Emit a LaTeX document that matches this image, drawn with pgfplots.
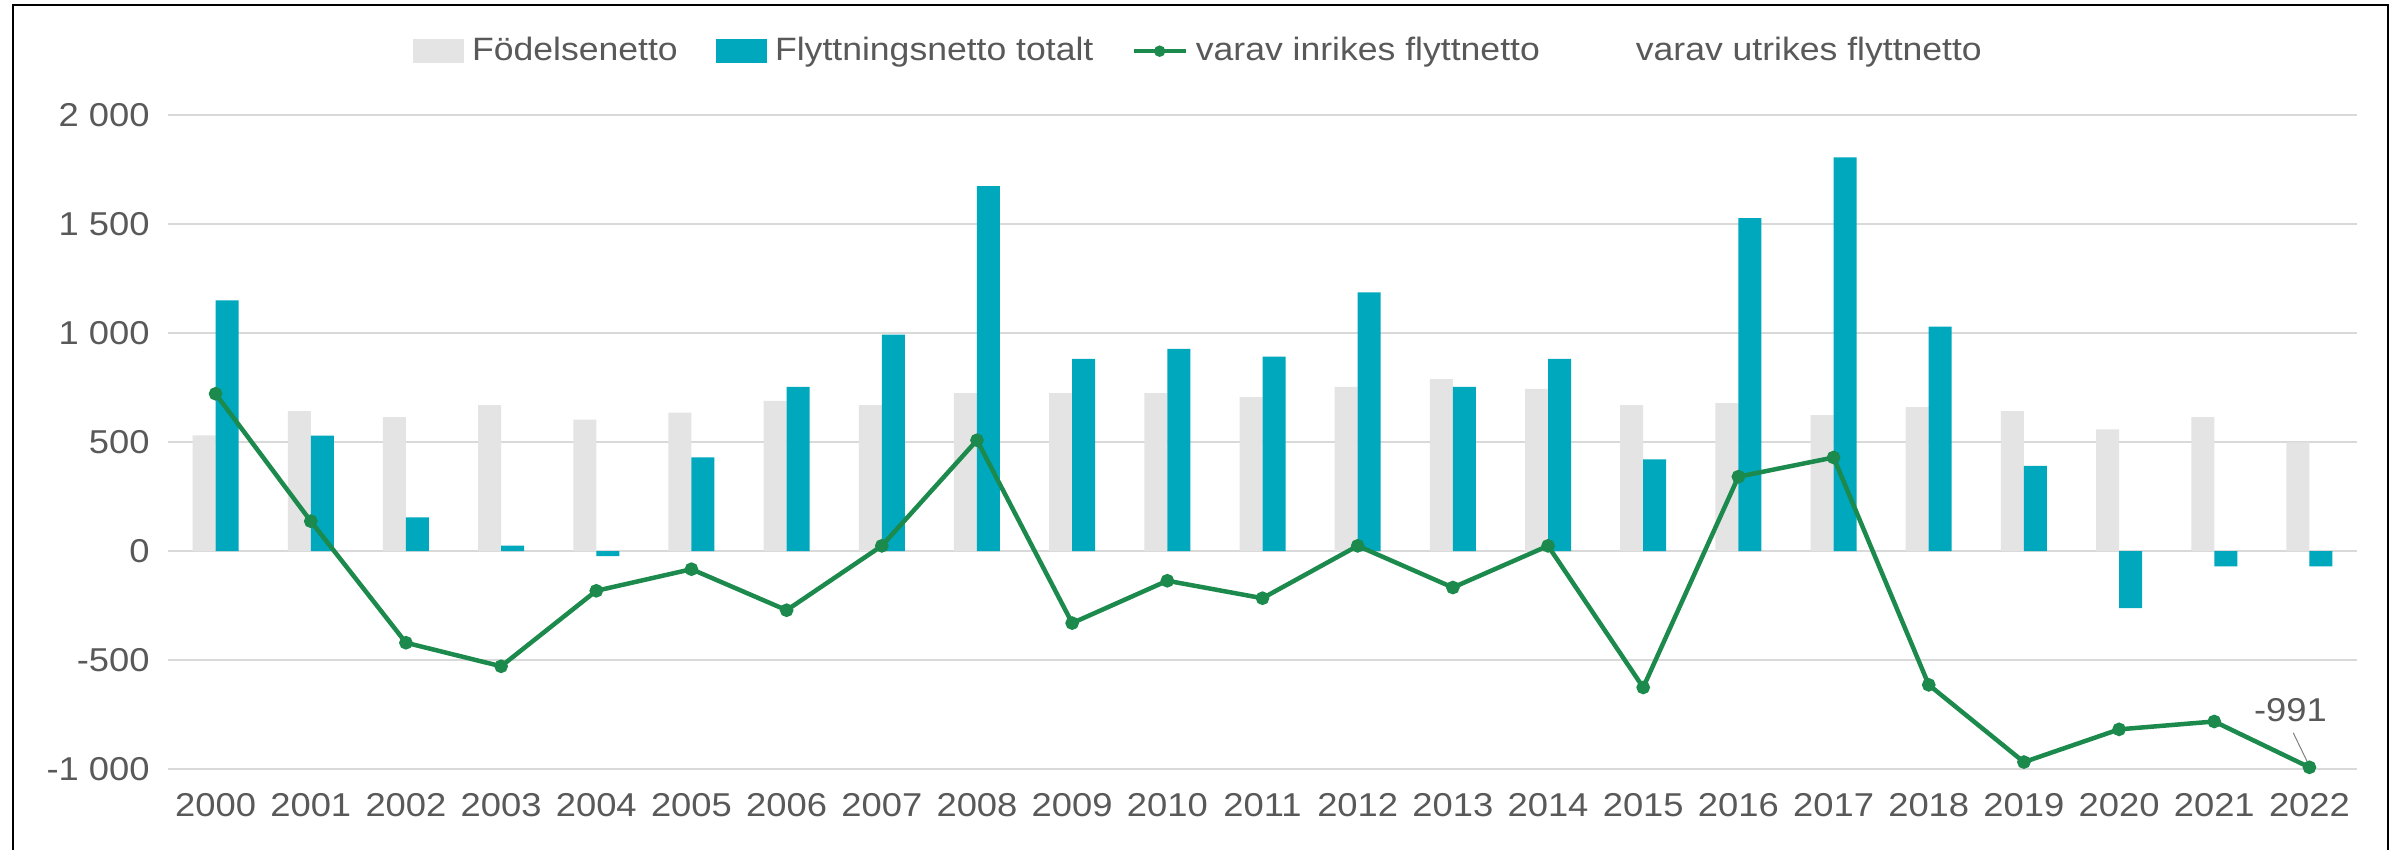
\documentclass[border=0pt]{standalone}
\usepackage{pgfplots}
\pgfplotsset{compat=1.18}
\usepackage{pgfplotstable}
\usepackage{fontspec}
\setmainfont[FakeStretch=1.1]{Liberation Sans}
\definecolor{fodgray}{RGB}{228,228,228}
\definecolor{teal1}{RGB}{0,168,189}
\definecolor{green1}{RGB}{28,138,76}
\definecolor{txtgray}{RGB}{89,89,89}
\definecolor{gridgray}{RGB}{217,217,217}
\pgfplotstableread{
idx year fod flytt inrikes
0 2000 530 1149 721
1 2001 641 529 137
2 2002 614 154 -420
3 2003 669 25 -528
4 2004 603 -23 -182
5 2005 634 429 -83
6 2006 688 752 -271
7 2007 669 992 24
8 2008 724 1673 508
9 2009 724 881 -330
10 2010 724 927 -136
11 2011 706 891 -216
12 2012 752 1186 24
13 2013 788 752 -167
14 2014 743 881 24
15 2015 669 420 -625
16 2016 678 1526 341
17 2017 623 1804 429
18 2018 660 1029 -613
19 2019 641 391 -967
20 2020 558 -261 -817
21 2021 614 -70 -781
22 2022 498 -70 -991
}\datatable
\begin{document}
\begin{tikzpicture}
\useasboundingbox (0,0) rectangle (240mm,85mm);
\fill[white] (0,0) rectangle (240mm,85mm);
\draw[line width=0.25mm] (1.3mm,-1mm) -- (1.3mm,84.5mm) -- (238.8mm,84.5mm) -- (238.8mm,-1mm);
\begin{axis}[
  at={(16.8mm,8.07mm)}, anchor=south west,
  scale only axis, width=218.9mm, height=65.46mm,
  xmin=-0.5, xmax=22.5, ymin=-1000, ymax=2000,
  axis line style={draw=none},
  major tick length=0pt,
  xtick={0,...,22},
  xticklabels={2000,2001,2002,2003,2004,2005,2006,2007,2008,2009,2010,2011,2012,2013,2014,2015,2016,2017,2018,2019,2020,2021,2022},
  ytick={-1000,-500,0,500,1000,1500,2000},
  yticklabels={-1 000,-500,0,500,1 000,1 500,2 000},
  ymajorgrids,
  major grid style={draw=gridgray, line width=0.2mm},
  ticklabel style={font=\fontsize{9.4}{11}\selectfont, text=txtgray},
  yticklabel style={xshift=-0.6mm},
  xticklabel style={yshift=-1.2mm},
  legend style={draw=none, fill=none, at={(0.472,1.097)}, anchor=center,
    font=\fontsize{9.2}{11}\selectfont, text=txtgray,
    /tikz/every even column/.append style={column sep=3mm},
    nodes={inner xsep=0.8mm}},
  legend columns=4,
  legend cell align=left,
  clip=false,
]
\addlegendimage{legend image code/.code={\fill[fodgray] (0mm,-1.1mm) rectangle (5mm,1.1mm);}}
\addlegendentry{Födelsenetto}
\addlegendimage{legend image code/.code={\fill[teal1] (0mm,-1.1mm) rectangle (5mm,1.1mm);}}
\addlegendentry{Flyttningsnetto totalt}
\addlegendimage{legend image code/.code={\draw[green1, line width=0.45mm] (0mm,0mm) -- (5.2mm,0mm); \fill[green1] (2.6mm,0mm) circle (0.5mm);}}
\addlegendentry{varav inrikes flyttnetto}
\addlegendimage{draw=none, fill=none, legend image code/.code={\path[draw=none, fill=none] (0mm,-1mm) rectangle (5mm,1mm);}}
\addlegendentry{varav utrikes flyttnetto}

\addplot[ybar, bar width=2.3mm, bar shift=-1.15mm, fill=fodgray, draw=none, forget plot] table[x=idx, y=fod] {\datatable};
\addplot[ybar, bar width=2.3mm, bar shift=1.15mm, fill=teal1, draw=none, forget plot] table[x=idx, y=flytt] {\datatable};
\addplot[green1, line width=0.45mm, mark=*, mark size=0.45mm, mark options={fill=green1, draw=green1}, forget plot] table[x=idx, y=inrikes] {\datatable};
\draw[gray, line width=0.1mm] (axis cs:21.83,-833) -- (axis cs:21.98,-968);
\node[font=\fontsize{9.4}{11}\selectfont, text=txtgray] at (axis cs:21.8,-728) {-991};
\end{axis}
\end{tikzpicture}
\end{document}
